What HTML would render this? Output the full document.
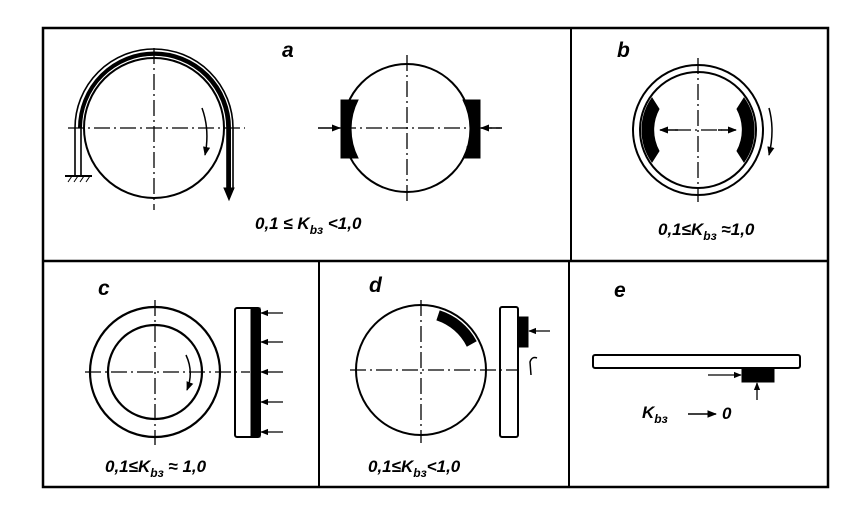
<!DOCTYPE html>
<html><head><meta charset="utf-8"><style>
html,body{margin:0;padding:0;background:#fff}
svg{display:block}
text{font-family:"Liberation Sans",sans-serif;font-style:italic;font-weight:bold;fill:#000}
</style></head><body>
<svg width="868" height="515" viewBox="0 0 868 515" xmlns="http://www.w3.org/2000/svg">
<defs>
<marker id="ah" viewBox="0 0 10 10" refX="9" refY="5" markerWidth="6" markerHeight="6" orient="auto-start-reverse"><path d="M0,1 L10,5 L0,9 z" fill="#000"/></marker>
</defs>
<g fill="none" stroke="#000">
<rect x="43" y="28" width="785" height="459" stroke-width="2.5"/>
<line x1="43" y1="261" x2="828" y2="261" stroke-width="2.5"/>
<line x1="571" y1="28" x2="571" y2="261" stroke-width="2"/>
<line x1="319" y1="261" x2="319" y2="487" stroke-width="2"/>
<line x1="569" y1="261" x2="569" y2="487" stroke-width="2"/>

<g stroke-dasharray="16 4 2 4" stroke-width="1.3">
<line x1="68" y1="128" x2="245" y2="128"/><line x1="154" y1="48" x2="154" y2="210"/>
<line x1="340" y1="128" x2="500" y2="128"/><line x1="407" y1="55" x2="407" y2="205"/>
<line x1="675" y1="130" x2="722" y2="130"/><line x1="698" y1="58" x2="698" y2="202"/>
<line x1="85" y1="372" x2="250" y2="372"/><line x1="155" y1="300" x2="155" y2="445"/>
<line x1="350" y1="370" x2="518" y2="370"/><line x1="421" y1="300" x2="421" y2="443"/>
</g>

<circle cx="154" cy="128" r="70" stroke-width="2"/>
<path d="M75,175 L75,128 A79,79 0 0 1 233,128 L233,190" stroke-width="1.6"/>
<path d="M81,175 L81,128 A73,73 0 0 1 227,128 L227,192" stroke-width="1.6"/>
<path d="M80,128 A74,74 0 0 1 229,128 L229,190" stroke-width="4"/>
<path d="M224,188 L234,188 L229,200 z" fill="#000" stroke-width="1"/>
<line x1="65" y1="176" x2="92" y2="176" stroke-width="2"/>
<path d="M68,182 l4,-6 M74,182 l4,-6 M80,182 l4,-6 M86,182 l4,-6" stroke-width="1"/>
<path d="M202,108 Q210,130 205,155" stroke-width="1.5" marker-end="url(#ah)"/>

<circle cx="407" cy="128" r="64" stroke-width="2"/>
<path d="M341,100 L358,100 A64,64 0 0 0 358,158 L341,158 z" fill="#000"/>
<path d="M480,100 L463,100 A64,64 0 0 1 463,158 L480,158 z" fill="#000"/>
<line x1="318" y1="128" x2="340" y2="128" stroke-width="1.5" marker-end="url(#ah)"/>
<line x1="502" y1="128" x2="481" y2="128" stroke-width="1.5" marker-end="url(#ah)"/>
<path d="M468,110 Q474,130 468,155" stroke-width="1.5" marker-end="url(#ah)"/>

<circle cx="698" cy="130" r="65" stroke-width="2"/>
<circle cx="698" cy="130" r="58" stroke-width="2"/>
<path d="M652,98 A56,56 0 0 0 652,162 L659,151 A44,44 0 0 1 659,109 z" fill="#000"/>
<path d="M744,98 A56,56 0 0 1 744,162 L737,151 A44,44 0 0 0 737,109 z" fill="#000"/>
<line x1="678" y1="130" x2="660" y2="130" stroke-width="1.5" marker-end="url(#ah)"/>
<line x1="718" y1="130" x2="736" y2="130" stroke-width="1.5" marker-end="url(#ah)"/>
<path d="M769,108 Q775,130 769,155" stroke-width="1.5" marker-end="url(#ah)"/>

<circle cx="155" cy="372" r="65" stroke-width="2.2"/>
<circle cx="155" cy="372" r="47" stroke-width="2.2"/>
<path d="M186,355 Q194,372 187,390" stroke-width="1.5" marker-end="url(#ah)"/>
<rect x="235" y="308" width="25" height="129" rx="2" stroke-width="2"/>
<rect x="251" y="308" width="9" height="129" fill="#000"/>
<g stroke-width="1.3">
<line x1="283" y1="313" x2="261" y2="313" marker-end="url(#ah)"/>
<line x1="283" y1="342" x2="261" y2="342" marker-end="url(#ah)"/>
<line x1="283" y1="372" x2="261" y2="372" marker-end="url(#ah)"/>
<line x1="283" y1="402" x2="261" y2="402" marker-end="url(#ah)"/>
<line x1="283" y1="432" x2="261" y2="432" marker-end="url(#ah)"/>
</g>

<circle cx="421" cy="370" r="65" stroke-width="2"/>
<path d="M440,311 A62,62 0 0 1 476,341 L467,346 A52,52 0 0 0 437,320 z" fill="#000"/>
<rect x="500" y="307" width="18" height="130" rx="2" stroke-width="2"/>
<rect x="518" y="317" width="10" height="30" fill="#000"/>
<line x1="550" y1="331" x2="529" y2="331" stroke-width="1.3" marker-end="url(#ah)"/>
<path d="M531,375 L530,362 Q532,356 537,358" stroke-width="1.5"/>

<rect x="593" y="355" width="207" height="13" rx="2" stroke-width="2"/>
<rect x="742" y="368" width="32" height="14" fill="#000"/>
<line x1="708" y1="375" x2="741" y2="375" stroke-width="1.3" marker-end="url(#ah)"/>
<line x1="757" y1="400" x2="757" y2="383" stroke-width="1.3" marker-end="url(#ah)"/>
<line x1="688" y1="414" x2="716" y2="414" stroke-width="1.6" marker-end="url(#ah)"/>
</g>

<text x="282" y="57" font-size="21" font-weight="normal">a</text>
<text x="617" y="57" font-size="21" font-weight="normal">b</text>
<text x="98" y="295" font-size="21" font-weight="normal">c</text>
<text x="369" y="292" font-size="21" font-weight="normal">d</text>
<text x="614" y="297" font-size="21" font-weight="normal">e</text>

<text x="255" y="229" font-size="17">0,1 ≤ K<tspan font-size="12" dy="5">bз</tspan><tspan dy="-5"> &lt;1,0</tspan></text>
<text x="658" y="235" font-size="17">0,1≤K<tspan font-size="12" dy="5">bз</tspan><tspan dy="-5"> ≈1,0</tspan></text>
<text x="105" y="472" font-size="17">0,1≤K<tspan font-size="12" dy="5">bз</tspan><tspan dy="-5"> ≈ 1,0</tspan></text>
<text x="368" y="472" font-size="17">0,1≤K<tspan font-size="12" dy="5">bз</tspan><tspan dy="-5">&lt;1,0</tspan></text>
<text x="642" y="418" font-size="17">K<tspan font-size="12" dy="5">bз</tspan></text>
<text x="722" y="419" font-size="17">0</text>
</svg>
</body></html>
